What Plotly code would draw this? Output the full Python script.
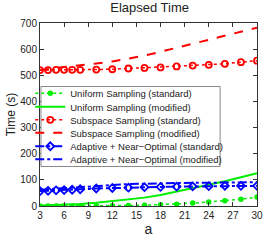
import plotly.graph_objects as go

a_vals = [3, 4, 5, 6, 7, 8, 10, 12, 14, 16, 18, 20, 22, 24, 26, 28, 30]

uniform_std = [0, 0, 0, 0, 0, 0, 0, 1, 2, 3, 5, 7, 11, 15, 20, 26, 34]
uniform_mod = [2, 3, 4, 5, 6, 8, 12, 18, 24, 32, 42, 55, 68, 80, 95, 110, 125]
subspace_std = [520, 520, 521, 521, 521, 521, 522, 523, 526, 528, 530, 534, 537, 540, 544, 550, 556]
subspace_mod = [520, 525, 528, 532, 535, 538, 545, 553, 563, 575, 590, 605, 620, 635, 650, 665, 682]
adaptive_std = [57, 58, 60, 61, 62, 64, 67, 69, 70, 72, 73, 74, 75, 76, 77, 77, 77]
adaptive_mod = [62, 64, 67, 69, 71, 74, 78, 81, 84, 85, 87, 88, 89, 89, 90, 91, 91]

x_ticks = [3, 6, 9, 12, 15, 18, 21, 24, 27, 30]
y_ticks = [0, 100, 200, 300, 400, 500, 600, 700]

GREEN = "#00ee00"
RED = "#ff0000"
BLUE = "#0000ff"
FONT = "Liberation Sans, Arial"

fig = go.Figure()
fig.add_trace(go.Scatter(x=a_vals, y=uniform_std, name="Uniform Sampling (standard)", legend="legend",
                         mode="lines+markers", line=dict(color=GREEN, width=1.5, dash="dot"),
                         marker=dict(symbol="circle", size=5.5, color=GREEN)))
fig.add_trace(go.Scatter(x=a_vals, y=uniform_mod, name="Uniform Sampling (modified)", legend="legend2",
                         mode="lines", line=dict(color=GREEN, width=2)))
fig.add_trace(go.Scatter(x=a_vals, y=subspace_std, name="Subspace Sampling (standard)", legend="legend3",
                         mode="lines+markers", line=dict(color=RED, width=1.5, dash="dot"),
                         marker=dict(symbol="circle-open", size=6, color=RED, line=dict(width=1.8))))
fig.add_trace(go.Scatter(x=a_vals, y=subspace_mod, name="Subspace Sampling (modified)", legend="legend4",
                         mode="lines", line=dict(color=RED, width=2, dash="dash")))
fig.add_trace(go.Scatter(x=a_vals, y=adaptive_std, name="Adaptive + Near\u2212Optimal (standard)", legend="legend5",
                         mode="lines+markers", line=dict(color=BLUE, width=2, dash="dashdot"),
                         marker=dict(symbol="diamond-open", size=6, color=BLUE, line=dict(width=1.8))))
fig.add_trace(go.Scatter(x=a_vals, y=adaptive_mod, name="Adaptive + Near\u2212Optimal (modified)", legend="legend6",
                         mode="lines", line=dict(color=BLUE, width=2, dash="dashdot")))

axis_common = dict(showline=True, linecolor="#333333", linewidth=1, mirror="ticks",
                   ticks="inside", ticklen=4, tickcolor="#333333", showgrid=False,
                   zeroline=False, tickfont=dict(family=FONT, size=10, color="#222222"))

fig.update_xaxes(range=[3, 30], tickvals=x_ticks, ticktext=[str(v) for v in x_ticks],
                 title=dict(text="a", font=dict(family=FONT, size=14, color="#222222"), standoff=4),
                 **axis_common)
fig.update_yaxes(range=[0, 700], tickvals=y_ticks, ticktext=[str(v) for v in y_ticks],
                 title=dict(text="Time (s)", font=dict(family=FONT, size=12, color="#222222"), standoff=2),
                 **axis_common)

# legend frame
fig.add_shape(type="rect", xref="paper", yref="paper", x0=0.0044, x1=0.83, y0=0.216, y1=0.653,
              fillcolor="white", line=dict(color="#888888", width=1), layer="above")

legend_rows_px = [96, 110, 123.5, 137, 151, 164.5]
legend_layout = {}
for i, py in enumerate(legend_rows_px):
    key = "legend" if i == 0 else f"legend{i + 1}"
    legend_layout[key] = dict(x=-0.045, y=(213 - py) / 190, xanchor="left", yanchor="middle",
                              bgcolor="rgba(0,0,0,0)", borderwidth=0,
                              font=dict(family=FONT, size=9.5, color="#222222"),
                              itemwidth=30)

fig.update_layout(
    width=273, height=245,
    margin=dict(l=36, r=10, t=23, b=32),
    paper_bgcolor="white", plot_bgcolor="white",
    title=dict(text="Elapsed Time", x=0.548, xanchor="center", y=0.99, yanchor="top",
               font=dict(family=FONT, size=13, color="#222222")),
    showlegend=True,
    **legend_layout,
)

fig.write_html("out.html", post_script="document.body.style.margin='0px';",
               config={"displayModeBar": False})
